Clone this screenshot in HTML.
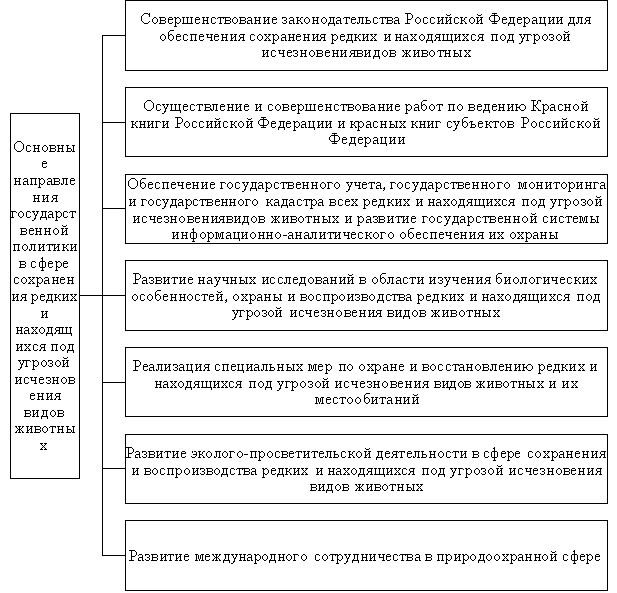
<!DOCTYPE html>
<html><head><meta charset="utf-8"><title>diagram</title><style>
html,body{margin:0;padding:0;background:#fff;overflow:hidden;width:617px;height:593px;}
svg{display:block;}
</style></head><body>
<svg width="617" height="593" viewBox="0 0 617 593" shape-rendering="crispEdges">
<defs>
<path id="g0" d="M1 -2h1v1h-1zM0 -1h2v1h-2zM1 0h1v1h-1zM0 1h1v1h-1z"/>
<path id="g1" d="M0 -4h4v1h-4z"/>
<path id="g2" d="M0 -11h5v1h-5zM7 -11h3v1h-3zM2 -10h1v1h-1zM6 -10h1v1h-1zM9 -10h1v1h-1zM2 -9h1v1h-1zM6 -9h1v1h-1zM2 -8h1v1h-1zM6 -8h1v1h-1zM2 -7h1v1h-1zM5 -7h1v1h-1zM2 -6h3v1h-3zM2 -5h1v1h-1zM4 -5h1v1h-1zM2 -4h1v1h-1zM5 -4h1v1h-1zM2 -3h1v1h-1zM6 -3h1v1h-1zM2 -2h1v1h-1zM7 -2h1v1h-1zM0 -1h5v1h-5zM7 -1h3v1h-3z"/>
<path id="g3" d="M3 -11h4v1h-4zM2 -10h1v1h-1zM7 -10h1v1h-1zM1 -9h1v1h-1zM8 -9h1v1h-1zM0 -8h1v1h-1zM9 -8h1v1h-1zM0 -7h1v1h-1zM9 -7h1v1h-1zM0 -6h1v1h-1zM9 -6h1v1h-1zM0 -5h1v1h-1zM9 -5h1v1h-1zM0 -4h1v1h-1zM9 -4h1v1h-1zM1 -3h1v1h-1zM8 -3h1v1h-1zM2 -2h1v1h-1zM7 -2h1v1h-1zM3 -1h4v1h-4z"/>
<path id="g4" d="M0 -11h6v1h-6zM2 -10h1v1h-1zM6 -10h1v1h-1zM2 -9h1v1h-1zM7 -9h1v1h-1zM2 -8h1v1h-1zM7 -8h1v1h-1zM2 -7h1v1h-1zM7 -7h1v1h-1zM2 -6h1v1h-1zM6 -6h1v1h-1zM2 -5h4v1h-4zM2 -4h1v1h-1zM2 -3h1v1h-1zM2 -2h1v1h-1zM0 -1h5v1h-5z"/>
<path id="g5" d="M3 -11h4v1h-4zM8 -11h1v1h-1zM2 -10h1v1h-1zM7 -10h2v1h-2zM1 -9h1v1h-1zM8 -9h1v1h-1zM0 -8h1v1h-1zM8 -8h1v1h-1zM0 -7h1v1h-1zM0 -6h1v1h-1zM0 -5h1v1h-1zM0 -4h1v1h-1zM1 -3h1v1h-1zM8 -3h1v1h-1zM2 -2h1v1h-1zM7 -2h1v1h-1zM3 -1h4v1h-4z"/>
<path id="g6" d="M3 -11h5v1h-5zM5 -10h1v1h-1zM2 -9h7v1h-7zM1 -8h1v1h-1zM5 -8h1v1h-1zM9 -8h1v1h-1zM0 -7h1v1h-1zM5 -7h1v1h-1zM10 -7h1v1h-1zM0 -6h1v1h-1zM5 -6h1v1h-1zM10 -6h1v1h-1zM0 -5h1v1h-1zM5 -5h1v1h-1zM10 -5h1v1h-1zM1 -4h1v1h-1zM5 -4h1v1h-1zM9 -4h1v1h-1zM2 -3h7v1h-7zM5 -2h1v1h-1zM3 -1h5v1h-5z"/>
<path id="g7" d="M1 -7h3v1h-3zM0 -6h1v1h-1zM4 -6h1v1h-1zM4 -5h1v1h-1zM1 -4h4v1h-4zM0 -3h1v1h-1zM4 -3h1v1h-1zM0 -2h1v1h-1zM4 -2h1v1h-1zM0 -1h3v1h-3zM4 -1h2v1h-2z"/>
<path id="g8" d="M2 -11h4v1h-4zM1 -10h1v1h-1zM0 -9h1v1h-1zM0 -8h1v1h-1zM0 -7h1v1h-1zM2 -7h2v1h-2zM0 -6h2v1h-2zM4 -6h1v1h-1zM0 -5h1v1h-1zM5 -5h1v1h-1zM0 -4h1v1h-1zM5 -4h1v1h-1zM0 -3h1v1h-1zM5 -3h1v1h-1zM1 -2h1v1h-1zM4 -2h1v1h-1zM2 -1h2v1h-2z"/>
<path id="g9" d="M0 -7h6v1h-6zM1 -6h1v1h-1zM6 -6h1v1h-1zM1 -5h1v1h-1zM6 -5h1v1h-1zM1 -4h5v1h-5zM1 -3h1v1h-1zM6 -3h1v1h-1zM1 -2h1v1h-1zM6 -2h1v1h-1zM0 -1h6v1h-6z"/>
<path id="g10" d="M0 -7h5v1h-5zM1 -6h1v1h-1zM5 -6h1v1h-1zM1 -5h1v1h-1zM1 -4h1v1h-1zM1 -3h1v1h-1zM1 -2h1v1h-1zM0 -1h3v1h-3z"/>
<path id="g11" d="M1 -7h6v1h-6zM2 -6h1v1h-1zM5 -6h1v1h-1zM2 -5h1v1h-1zM5 -5h1v1h-1zM2 -4h1v1h-1zM5 -4h1v1h-1zM2 -3h1v1h-1zM5 -3h1v1h-1zM1 -2h1v1h-1zM5 -2h1v1h-1zM0 -1h7v1h-7zM0 0h1v1h-1zM6 0h1v1h-1zM0 1h1v1h-1zM6 1h1v1h-1z"/>
<path id="g12" d="M1 -7h3v1h-3zM0 -6h1v1h-1zM4 -6h1v1h-1zM0 -5h5v1h-5zM0 -4h1v1h-1zM0 -3h1v1h-1zM0 -2h1v1h-1zM4 -2h1v1h-1zM1 -1h3v1h-3z"/>
<path id="g13" d="M0 -7h2v1h-2zM3 -7h3v1h-3zM7 -7h2v1h-2zM1 -6h1v1h-1zM4 -6h1v1h-1zM7 -6h1v1h-1zM2 -5h1v1h-1zM4 -5h1v1h-1zM6 -5h1v1h-1zM3 -4h3v1h-3zM2 -3h1v1h-1zM4 -3h1v1h-1zM6 -3h1v1h-1zM1 -2h1v1h-1zM4 -2h1v1h-1zM7 -2h1v1h-1zM0 -1h2v1h-2zM3 -1h3v1h-3zM7 -1h2v1h-2z"/>
<path id="g14" d="M0 -7h4v1h-4zM0 -6h1v1h-1zM4 -6h1v1h-1zM4 -5h1v1h-1zM2 -4h2v1h-2zM4 -3h1v1h-1zM0 -2h1v1h-1zM4 -2h1v1h-1zM1 -1h3v1h-3z"/>
<path id="g15" d="M0 -7h3v1h-3zM4 -7h3v1h-3zM1 -6h1v1h-1zM5 -6h1v1h-1zM1 -5h1v1h-1zM4 -5h2v1h-2zM1 -4h1v1h-1zM3 -4h1v1h-1zM5 -4h1v1h-1zM1 -3h2v1h-2zM5 -3h1v1h-1zM1 -2h1v1h-1zM5 -2h1v1h-1zM0 -1h3v1h-3zM4 -1h3v1h-3z"/>
<path id="g16" d="M1 -10h1v1h-1zM5 -10h1v1h-1zM2 -9h3v1h-3zM0 -7h3v1h-3zM4 -7h3v1h-3zM1 -6h1v1h-1zM5 -6h1v1h-1zM1 -5h1v1h-1zM4 -5h2v1h-2zM1 -4h1v1h-1zM3 -4h1v1h-1zM5 -4h1v1h-1zM1 -3h2v1h-2zM5 -3h1v1h-1zM1 -2h1v1h-1zM5 -2h1v1h-1zM0 -1h3v1h-3zM4 -1h3v1h-3z"/>
<path id="g17" d="M0 -7h3v1h-3zM5 -7h2v1h-2zM1 -6h1v1h-1zM4 -6h1v1h-1zM1 -5h1v1h-1zM4 -5h1v1h-1zM1 -4h3v1h-3zM1 -3h1v1h-1zM4 -3h1v1h-1zM1 -2h1v1h-1zM5 -2h1v1h-1zM0 -1h3v1h-3zM5 -1h2v1h-2z"/>
<path id="g18" d="M1 -7h6v1h-6zM2 -6h1v1h-1zM5 -6h1v1h-1zM2 -5h1v1h-1zM5 -5h1v1h-1zM2 -4h1v1h-1zM5 -4h1v1h-1zM2 -3h1v1h-1zM5 -3h1v1h-1zM0 -2h1v1h-1zM2 -2h1v1h-1zM5 -2h1v1h-1zM0 -1h2v1h-2zM4 -1h3v1h-3z"/>
<path id="g19" d="M0 -7h3v1h-3zM6 -7h3v1h-3zM1 -6h1v1h-1zM3 -6h1v1h-1zM5 -6h1v1h-1zM7 -6h1v1h-1zM1 -5h1v1h-1zM3 -5h1v1h-1zM5 -5h1v1h-1zM7 -5h1v1h-1zM1 -4h1v1h-1zM3 -4h1v1h-1zM5 -4h1v1h-1zM7 -4h1v1h-1zM1 -3h1v1h-1zM3 -3h1v1h-1zM5 -3h1v1h-1zM7 -3h1v1h-1zM1 -2h1v1h-1zM4 -2h1v1h-1zM7 -2h1v1h-1zM0 -1h3v1h-3zM4 -1h1v1h-1zM6 -1h3v1h-3z"/>
<path id="g20" d="M0 -7h3v1h-3zM4 -7h3v1h-3zM1 -6h1v1h-1zM5 -6h1v1h-1zM1 -5h1v1h-1zM5 -5h1v1h-1zM1 -4h5v1h-5zM1 -3h1v1h-1zM5 -3h1v1h-1zM1 -2h1v1h-1zM5 -2h1v1h-1zM0 -1h3v1h-3zM4 -1h3v1h-3z"/>
<path id="g21" d="M2 -7h2v1h-2zM1 -6h1v1h-1zM4 -6h1v1h-1zM0 -5h1v1h-1zM5 -5h1v1h-1zM0 -4h1v1h-1zM5 -4h1v1h-1zM0 -3h1v1h-1zM5 -3h1v1h-1zM1 -2h1v1h-1zM4 -2h1v1h-1zM2 -1h2v1h-2z"/>
<path id="g22" d="M0 -7h7v1h-7zM1 -6h1v1h-1zM5 -6h1v1h-1zM1 -5h1v1h-1zM5 -5h1v1h-1zM1 -4h1v1h-1zM5 -4h1v1h-1zM1 -3h1v1h-1zM5 -3h1v1h-1zM1 -2h1v1h-1zM5 -2h1v1h-1zM0 -1h3v1h-3zM4 -1h3v1h-3z"/>
<path id="g23" d="M0 -7h2v1h-2zM3 -7h2v1h-2zM1 -6h2v1h-2zM5 -6h1v1h-1zM1 -5h1v1h-1zM6 -5h1v1h-1zM1 -4h1v1h-1zM6 -4h1v1h-1zM1 -3h1v1h-1zM6 -3h1v1h-1zM1 -2h2v1h-2zM5 -2h1v1h-1zM1 -1h1v1h-1zM3 -1h2v1h-2zM1 0h1v1h-1zM1 1h1v1h-1zM0 2h3v1h-3z"/>
<path id="g24" d="M1 -7h3v1h-3zM0 -6h1v1h-1zM4 -6h1v1h-1zM0 -5h1v1h-1zM0 -4h1v1h-1zM0 -3h1v1h-1zM0 -2h1v1h-1zM4 -2h1v1h-1zM1 -1h3v1h-3z"/>
<path id="g25" d="M1 -7h6v1h-6zM0 -6h1v1h-1zM3 -6h1v1h-1zM6 -6h1v1h-1zM3 -5h1v1h-1zM3 -4h1v1h-1zM3 -3h1v1h-1zM3 -2h1v1h-1zM2 -1h3v1h-3z"/>
<path id="g26" d="M0 -7h3v1h-3zM4 -7h3v1h-3zM1 -6h1v1h-1zM5 -6h1v1h-1zM2 -5h1v1h-1zM5 -5h1v1h-1zM2 -4h1v1h-1zM4 -4h1v1h-1zM3 -3h2v1h-2zM3 -2h1v1h-1zM3 -1h1v1h-1zM2 0h2v1h-2zM2 1h1v1h-1zM0 2h2v1h-2z"/>
<path id="g27" d="M3 -11h1v1h-1zM2 -10h2v1h-2zM3 -9h1v1h-1zM3 -8h1v1h-1zM1 -7h5v1h-5zM0 -6h1v1h-1zM3 -6h1v1h-1zM6 -6h1v1h-1zM0 -5h1v1h-1zM3 -5h1v1h-1zM6 -5h1v1h-1zM0 -4h1v1h-1zM3 -4h1v1h-1zM6 -4h1v1h-1zM0 -3h1v1h-1zM3 -3h1v1h-1zM6 -3h1v1h-1zM0 -2h1v1h-1zM3 -2h1v1h-1zM6 -2h1v1h-1zM1 -1h5v1h-5zM3 0h1v1h-1zM3 1h1v1h-1zM2 2h3v1h-3z"/>
<path id="g28" d="M0 -7h3v1h-3zM4 -7h3v1h-3zM1 -6h1v1h-1zM5 -6h1v1h-1zM2 -5h1v1h-1zM4 -5h1v1h-1zM3 -4h1v1h-1zM2 -3h1v1h-1zM4 -3h1v1h-1zM1 -2h1v1h-1zM5 -2h1v1h-1zM0 -1h3v1h-3zM4 -1h3v1h-3z"/>
<path id="g29" d="M0 -7h3v1h-3zM4 -7h3v1h-3zM1 -6h1v1h-1zM5 -6h1v1h-1zM1 -5h1v1h-1zM5 -5h1v1h-1zM1 -4h1v1h-1zM5 -4h1v1h-1zM1 -3h1v1h-1zM5 -3h1v1h-1zM1 -2h1v1h-1zM5 -2h1v1h-1zM0 -1h7v1h-7zM6 0h1v1h-1zM6 1h1v1h-1z"/>
<path id="g30" d="M0 -7h3v1h-3zM4 -7h3v1h-3zM1 -6h1v1h-1zM5 -6h1v1h-1zM1 -5h1v1h-1zM5 -5h1v1h-1zM1 -4h5v1h-5zM5 -3h1v1h-1zM5 -2h1v1h-1zM4 -1h3v1h-3z"/>
<path id="g31" d="M0 -7h3v1h-3zM4 -7h3v1h-3zM8 -7h3v1h-3zM1 -6h1v1h-1zM5 -6h1v1h-1zM9 -6h1v1h-1zM1 -5h1v1h-1zM5 -5h1v1h-1zM9 -5h1v1h-1zM1 -4h1v1h-1zM5 -4h1v1h-1zM9 -4h1v1h-1zM1 -3h1v1h-1zM5 -3h1v1h-1zM9 -3h1v1h-1zM1 -2h1v1h-1zM5 -2h1v1h-1zM9 -2h1v1h-1zM0 -1h11v1h-11z"/>
<path id="g32" d="M0 -7h3v1h-3zM4 -7h3v1h-3zM8 -7h3v1h-3zM1 -6h1v1h-1zM5 -6h1v1h-1zM9 -6h1v1h-1zM1 -5h1v1h-1zM5 -5h1v1h-1zM9 -5h1v1h-1zM1 -4h1v1h-1zM5 -4h1v1h-1zM9 -4h1v1h-1zM1 -3h1v1h-1zM5 -3h1v1h-1zM9 -3h1v1h-1zM1 -2h1v1h-1zM5 -2h1v1h-1zM9 -2h1v1h-1zM0 -1h11v1h-11zM10 0h1v1h-1zM10 1h1v1h-1z"/>
<path id="g33" d="M1 -7h3v1h-3zM0 -6h1v1h-1zM2 -6h1v1h-1zM2 -5h1v1h-1zM2 -4h4v1h-4zM2 -3h1v1h-1zM6 -3h1v1h-1zM2 -2h1v1h-1zM6 -2h1v1h-1zM1 -1h5v1h-5z"/>
<path id="g34" d="M0 -7h3v1h-3zM6 -7h3v1h-3zM1 -6h1v1h-1zM7 -6h1v1h-1zM1 -5h1v1h-1zM7 -5h1v1h-1zM1 -4h4v1h-4zM7 -4h1v1h-1zM1 -3h1v1h-1zM5 -3h1v1h-1zM7 -3h1v1h-1zM1 -2h1v1h-1zM5 -2h1v1h-1zM7 -2h1v1h-1zM0 -1h5v1h-5zM6 -1h3v1h-3z"/>
<path id="g35" d="M0 -7h3v1h-3zM1 -6h1v1h-1zM1 -5h1v1h-1zM1 -4h4v1h-4zM1 -3h1v1h-1zM5 -3h1v1h-1zM1 -2h1v1h-1zM5 -2h1v1h-1zM0 -1h5v1h-5z"/>
<path id="g36" d="M1 -7h1v1h-1zM3 -7h2v1h-2zM1 -6h1v1h-1zM5 -6h1v1h-1zM5 -5h1v1h-1zM2 -4h4v1h-4zM5 -3h1v1h-1zM0 -2h1v1h-1zM4 -2h1v1h-1zM1 -1h3v1h-3z"/>
<path id="g37" d="M0 -7h3v1h-3zM6 -7h3v1h-3zM1 -6h1v1h-1zM5 -6h1v1h-1zM9 -6h1v1h-1zM1 -5h1v1h-1zM4 -5h1v1h-1zM10 -5h1v1h-1zM1 -4h4v1h-4zM10 -4h1v1h-1zM1 -3h1v1h-1zM4 -3h1v1h-1zM10 -3h1v1h-1zM1 -2h1v1h-1zM5 -2h1v1h-1zM9 -2h1v1h-1zM0 -1h3v1h-3zM6 -1h3v1h-3z"/>
<path id="g38" d="M2 -7h5v1h-5zM1 -6h1v1h-1zM5 -6h1v1h-1zM1 -5h1v1h-1zM5 -5h1v1h-1zM2 -4h4v1h-4zM2 -3h1v1h-1zM5 -3h1v1h-1zM1 -2h1v1h-1zM5 -2h1v1h-1zM0 -1h2v1h-2zM4 -1h3v1h-3z"/>
</defs>
<rect width="617" height="593" fill="#fff"/>
<path fill="#000" d="M125 0h483v1h-483zM125 70h483v1h-483zM125 1h1v69h-1zM607 1h1v69h-1zM103 35h22v1h-22zM125 87h483v1h-483zM125 156h483v1h-483zM125 88h1v68h-1zM607 88h1v68h-1zM103 122h22v1h-22zM125 174h483v1h-483zM125 243h483v1h-483zM125 175h1v68h-1zM607 175h1v68h-1zM103 208h22v1h-22zM125 260h483v1h-483zM125 330h483v1h-483zM125 261h1v69h-1zM607 261h1v69h-1zM103 295h22v1h-22zM125 347h483v1h-483zM125 416h483v1h-483zM125 348h1v68h-1zM607 348h1v68h-1zM103 382h22v1h-22zM125 434h483v1h-483zM125 503h483v1h-483zM125 435h1v68h-1zM607 435h1v68h-1zM103 468h22v1h-22zM125 520h483v1h-483zM125 590h483v1h-483zM125 521h1v69h-1zM607 521h1v69h-1zM103 555h22v1h-22zM102 35h1v521h-1zM10 113h70v1h-70zM10 478h70v1h-70zM10 114h1v364h-1zM79 114h1v364h-1zM80 295h22v1h-22z"/>
<g fill="#000">
<use href="#g5" x="141" y="24"/>
<use href="#g21" x="152" y="24"/>
<use href="#g9" x="159" y="24"/>
<use href="#g12" x="168" y="24"/>
<use href="#g23" x="174" y="24"/>
<use href="#g31" x="182" y="24"/>
<use href="#g12" x="195" y="24"/>
<use href="#g20" x="202" y="24"/>
<use href="#g24" x="211" y="24"/>
<use href="#g25" x="217" y="24"/>
<use href="#g9" x="224" y="24"/>
<use href="#g21" x="232" y="24"/>
<use href="#g9" x="239" y="24"/>
<use href="#g7" x="247" y="24"/>
<use href="#g20" x="254" y="24"/>
<use href="#g15" x="263" y="24"/>
<use href="#g12" x="272" y="24"/>
<use href="#g14" x="282" y="24"/>
<use href="#g7" x="289" y="24"/>
<use href="#g17" x="296" y="24"/>
<use href="#g21" x="304" y="24"/>
<use href="#g20" x="312" y="24"/>
<use href="#g21" x="321" y="24"/>
<use href="#g11" x="328" y="24"/>
<use href="#g7" x="336" y="24"/>
<use href="#g25" x="343" y="24"/>
<use href="#g12" x="351" y="24"/>
<use href="#g18" x="357" y="24"/>
<use href="#g35" x="365" y="24"/>
<use href="#g24" x="373" y="24"/>
<use href="#g25" x="379" y="24"/>
<use href="#g9" x="386" y="24"/>
<use href="#g7" x="394" y="24"/>
<use href="#g4" x="405" y="24"/>
<use href="#g21" x="415" y="24"/>
<use href="#g24" x="423" y="24"/>
<use href="#g24" x="430" y="24"/>
<use href="#g15" x="437" y="24"/>
<use href="#g16" x="445" y="24"/>
<use href="#g24" x="454" y="24"/>
<use href="#g17" x="460" y="24"/>
<use href="#g21" x="469" y="24"/>
<use href="#g16" x="476" y="24"/>
<use href="#g6" x="489" y="24"/>
<use href="#g12" x="502" y="24"/>
<use href="#g11" x="508" y="24"/>
<use href="#g12" x="517" y="24"/>
<use href="#g23" x="523" y="24"/>
<use href="#g7" x="532" y="24"/>
<use href="#g29" x="539" y="24"/>
<use href="#g15" x="548" y="24"/>
<use href="#g15" x="556" y="24"/>
<use href="#g11" x="568" y="24"/>
<use href="#g18" x="576" y="24"/>
<use href="#g38" x="584" y="24"/>
<use href="#g21" x="160" y="41"/>
<use href="#g8" x="168" y="41"/>
<use href="#g12" x="176" y="41"/>
<use href="#g24" x="183" y="41"/>
<use href="#g22" x="190" y="41"/>
<use href="#g12" x="199" y="41"/>
<use href="#g30" x="206" y="41"/>
<use href="#g12" x="214" y="41"/>
<use href="#g20" x="221" y="41"/>
<use href="#g15" x="230" y="41"/>
<use href="#g38" x="238" y="41"/>
<use href="#g24" x="250" y="41"/>
<use href="#g21" x="257" y="41"/>
<use href="#g28" x="264" y="41"/>
<use href="#g23" x="272" y="41"/>
<use href="#g7" x="281" y="41"/>
<use href="#g20" x="288" y="41"/>
<use href="#g12" x="296" y="41"/>
<use href="#g20" x="303" y="41"/>
<use href="#g15" x="312" y="41"/>
<use href="#g38" x="319" y="41"/>
<use href="#g23" x="331" y="41"/>
<use href="#g12" x="340" y="41"/>
<use href="#g11" x="346" y="41"/>
<use href="#g17" x="354" y="41"/>
<use href="#g15" x="362" y="41"/>
<use href="#g28" x="370" y="41"/>
<use href="#g15" x="384" y="41"/>
<use href="#g20" x="395" y="41"/>
<use href="#g7" x="403" y="41"/>
<use href="#g28" x="410" y="41"/>
<use href="#g21" x="419" y="41"/>
<use href="#g11" x="426" y="41"/>
<use href="#g38" x="434" y="41"/>
<use href="#g32" x="442" y="41"/>
<use href="#g15" x="454" y="41"/>
<use href="#g28" x="462" y="41"/>
<use href="#g24" x="471" y="41"/>
<use href="#g38" x="477" y="41"/>
<use href="#g22" x="491" y="41"/>
<use href="#g21" x="500" y="41"/>
<use href="#g11" x="507" y="41"/>
<use href="#g26" x="519" y="41"/>
<use href="#g10" x="526" y="41"/>
<use href="#g23" x="533" y="41"/>
<use href="#g21" x="542" y="41"/>
<use href="#g14" x="549" y="41"/>
<use href="#g21" x="556" y="41"/>
<use href="#g16" x="563" y="41"/>
<use href="#g15" x="262" y="57"/>
<use href="#g24" x="271" y="57"/>
<use href="#g30" x="278" y="57"/>
<use href="#g12" x="287" y="57"/>
<use href="#g14" x="293" y="57"/>
<use href="#g20" x="300" y="57"/>
<use href="#g21" x="309" y="57"/>
<use href="#g9" x="316" y="57"/>
<use href="#g12" x="325" y="57"/>
<use href="#g20" x="332" y="57"/>
<use href="#g15" x="340" y="57"/>
<use href="#g38" x="349" y="57"/>
<use href="#g9" x="356" y="57"/>
<use href="#g15" x="364" y="57"/>
<use href="#g11" x="373" y="57"/>
<use href="#g21" x="382" y="57"/>
<use href="#g9" x="389" y="57"/>
<use href="#g13" x="402" y="57"/>
<use href="#g15" x="413" y="57"/>
<use href="#g9" x="421" y="57"/>
<use href="#g21" x="429" y="57"/>
<use href="#g25" x="437" y="57"/>
<use href="#g20" x="444" y="57"/>
<use href="#g34" x="453" y="57"/>
<use href="#g28" x="464" y="57"/>
<use href="#g3" x="144" y="111"/>
<use href="#g24" x="156" y="111"/>
<use href="#g26" x="162" y="111"/>
<use href="#g32" x="170" y="111"/>
<use href="#g12" x="183" y="111"/>
<use href="#g24" x="190" y="111"/>
<use href="#g25" x="196" y="111"/>
<use href="#g9" x="204" y="111"/>
<use href="#g18" x="211" y="111"/>
<use href="#g12" x="220" y="111"/>
<use href="#g20" x="227" y="111"/>
<use href="#g15" x="235" y="111"/>
<use href="#g12" x="244" y="111"/>
<use href="#g15" x="255" y="111"/>
<use href="#g24" x="268" y="111"/>
<use href="#g21" x="275" y="111"/>
<use href="#g9" x="282" y="111"/>
<use href="#g12" x="291" y="111"/>
<use href="#g23" x="297" y="111"/>
<use href="#g31" x="305" y="111"/>
<use href="#g12" x="318" y="111"/>
<use href="#g20" x="325" y="111"/>
<use href="#g24" x="334" y="111"/>
<use href="#g25" x="340" y="111"/>
<use href="#g9" x="347" y="111"/>
<use href="#g21" x="355" y="111"/>
<use href="#g9" x="362" y="111"/>
<use href="#g7" x="370" y="111"/>
<use href="#g20" x="378" y="111"/>
<use href="#g15" x="386" y="111"/>
<use href="#g12" x="395" y="111"/>
<use href="#g23" x="405" y="111"/>
<use href="#g7" x="414" y="111"/>
<use href="#g8" x="421" y="111"/>
<use href="#g21" x="429" y="111"/>
<use href="#g25" x="436" y="111"/>
<use href="#g22" x="448" y="111"/>
<use href="#g21" x="457" y="111"/>
<use href="#g9" x="468" y="111"/>
<use href="#g12" x="477" y="111"/>
<use href="#g11" x="483" y="111"/>
<use href="#g12" x="492" y="111"/>
<use href="#g20" x="498" y="111"/>
<use href="#g15" x="507" y="111"/>
<use href="#g37" x="515" y="111"/>
<use href="#g2" x="531" y="111"/>
<use href="#g23" x="542" y="111"/>
<use href="#g7" x="550" y="111"/>
<use href="#g24" x="558" y="111"/>
<use href="#g20" x="564" y="111"/>
<use href="#g21" x="573" y="111"/>
<use href="#g16" x="581" y="111"/>
<use href="#g17" x="131" y="128"/>
<use href="#g20" x="139" y="128"/>
<use href="#g15" x="147" y="128"/>
<use href="#g10" x="155" y="128"/>
<use href="#g15" x="162" y="128"/>
<use href="#g4" x="175" y="128"/>
<use href="#g21" x="184" y="128"/>
<use href="#g24" x="192" y="128"/>
<use href="#g24" x="199" y="128"/>
<use href="#g15" x="206" y="128"/>
<use href="#g16" x="214" y="128"/>
<use href="#g24" x="223" y="128"/>
<use href="#g17" x="230" y="128"/>
<use href="#g21" x="238" y="128"/>
<use href="#g16" x="246" y="128"/>
<use href="#g6" x="258" y="128"/>
<use href="#g12" x="271" y="128"/>
<use href="#g11" x="278" y="128"/>
<use href="#g12" x="286" y="128"/>
<use href="#g23" x="293" y="128"/>
<use href="#g7" x="301" y="128"/>
<use href="#g29" x="308" y="128"/>
<use href="#g15" x="317" y="128"/>
<use href="#g15" x="325" y="128"/>
<use href="#g15" x="338" y="128"/>
<use href="#g17" x="350" y="128"/>
<use href="#g23" x="357" y="128"/>
<use href="#g7" x="366" y="128"/>
<use href="#g24" x="373" y="128"/>
<use href="#g20" x="380" y="128"/>
<use href="#g34" x="389" y="128"/>
<use href="#g28" x="399" y="128"/>
<use href="#g17" x="411" y="128"/>
<use href="#g20" x="419" y="128"/>
<use href="#g15" x="427" y="128"/>
<use href="#g10" x="435" y="128"/>
<use href="#g24" x="447" y="128"/>
<use href="#g26" x="453" y="128"/>
<use href="#g8" x="462" y="128"/>
<use href="#g33" x="469" y="128"/>
<use href="#g12" x="478" y="128"/>
<use href="#g17" x="485" y="128"/>
<use href="#g25" x="492" y="128"/>
<use href="#g21" x="500" y="128"/>
<use href="#g9" x="507" y="128"/>
<use href="#g4" x="521" y="128"/>
<use href="#g21" x="531" y="128"/>
<use href="#g24" x="539" y="128"/>
<use href="#g24" x="546" y="128"/>
<use href="#g15" x="553" y="128"/>
<use href="#g16" x="561" y="128"/>
<use href="#g24" x="570" y="128"/>
<use href="#g17" x="577" y="128"/>
<use href="#g21" x="585" y="128"/>
<use href="#g16" x="593" y="128"/>
<use href="#g6" x="329" y="144"/>
<use href="#g12" x="342" y="144"/>
<use href="#g11" x="349" y="144"/>
<use href="#g12" x="358" y="144"/>
<use href="#g23" x="364" y="144"/>
<use href="#g7" x="373" y="144"/>
<use href="#g29" x="380" y="144"/>
<use href="#g15" x="389" y="144"/>
<use href="#g15" x="398" y="144"/>
<use href="#g3" x="128" y="189"/>
<use href="#g8" x="140" y="189"/>
<use href="#g12" x="148" y="189"/>
<use href="#g24" x="155" y="189"/>
<use href="#g22" x="162" y="189"/>
<use href="#g12" x="171" y="189"/>
<use href="#g30" x="177" y="189"/>
<use href="#g12" x="186" y="189"/>
<use href="#g20" x="192" y="189"/>
<use href="#g15" x="201" y="189"/>
<use href="#g12" x="210" y="189"/>
<use href="#g10" x="220" y="189"/>
<use href="#g21" x="227" y="189"/>
<use href="#g24" x="235" y="189"/>
<use href="#g26" x="242" y="189"/>
<use href="#g11" x="250" y="189"/>
<use href="#g7" x="258" y="189"/>
<use href="#g23" x="265" y="189"/>
<use href="#g24" x="274" y="189"/>
<use href="#g25" x="280" y="189"/>
<use href="#g9" x="287" y="189"/>
<use href="#g12" x="296" y="189"/>
<use href="#g20" x="302" y="189"/>
<use href="#g20" x="311" y="189"/>
<use href="#g21" x="320" y="189"/>
<use href="#g10" x="327" y="189"/>
<use href="#g21" x="334" y="189"/>
<use href="#g26" x="346" y="189"/>
<use href="#g30" x="354" y="189"/>
<use href="#g12" x="362" y="189"/>
<use href="#g25" x="368" y="189"/>
<use href="#g7" x="376" y="189"/>
<use href="#g0" x="383" y="189"/>
<use href="#g10" x="390" y="189"/>
<use href="#g21" x="397" y="189"/>
<use href="#g24" x="405" y="189"/>
<use href="#g26" x="412" y="189"/>
<use href="#g11" x="420" y="189"/>
<use href="#g7" x="428" y="189"/>
<use href="#g23" x="435" y="189"/>
<use href="#g24" x="444" y="189"/>
<use href="#g25" x="450" y="189"/>
<use href="#g9" x="457" y="189"/>
<use href="#g12" x="465" y="189"/>
<use href="#g20" x="472" y="189"/>
<use href="#g20" x="481" y="189"/>
<use href="#g21" x="489" y="189"/>
<use href="#g10" x="497" y="189"/>
<use href="#g21" x="504" y="189"/>
<use href="#g19" x="518" y="189"/>
<use href="#g21" x="529" y="189"/>
<use href="#g20" x="536" y="189"/>
<use href="#g15" x="545" y="189"/>
<use href="#g25" x="553" y="189"/>
<use href="#g21" x="561" y="189"/>
<use href="#g23" x="568" y="189"/>
<use href="#g15" x="576" y="189"/>
<use href="#g20" x="585" y="189"/>
<use href="#g10" x="593" y="189"/>
<use href="#g7" x="600" y="189"/>
<use href="#g15" x="129" y="206"/>
<use href="#g10" x="141" y="206"/>
<use href="#g21" x="148" y="206"/>
<use href="#g24" x="156" y="206"/>
<use href="#g26" x="162" y="206"/>
<use href="#g11" x="170" y="206"/>
<use href="#g7" x="178" y="206"/>
<use href="#g23" x="185" y="206"/>
<use href="#g24" x="193" y="206"/>
<use href="#g25" x="199" y="206"/>
<use href="#g9" x="206" y="206"/>
<use href="#g12" x="215" y="206"/>
<use href="#g20" x="221" y="206"/>
<use href="#g20" x="229" y="206"/>
<use href="#g21" x="238" y="206"/>
<use href="#g10" x="245" y="206"/>
<use href="#g21" x="252" y="206"/>
<use href="#g17" x="266" y="206"/>
<use href="#g7" x="274" y="206"/>
<use href="#g11" x="281" y="206"/>
<use href="#g7" x="289" y="206"/>
<use href="#g24" x="297" y="206"/>
<use href="#g25" x="303" y="206"/>
<use href="#g23" x="310" y="206"/>
<use href="#g7" x="318" y="206"/>
<use href="#g9" x="329" y="206"/>
<use href="#g24" x="338" y="206"/>
<use href="#g12" x="345" y="206"/>
<use href="#g28" x="351" y="206"/>
<use href="#g23" x="363" y="206"/>
<use href="#g12" x="372" y="206"/>
<use href="#g11" x="378" y="206"/>
<use href="#g17" x="387" y="206"/>
<use href="#g15" x="395" y="206"/>
<use href="#g28" x="403" y="206"/>
<use href="#g15" x="416" y="206"/>
<use href="#g20" x="428" y="206"/>
<use href="#g7" x="436" y="206"/>
<use href="#g28" x="443" y="206"/>
<use href="#g21" x="451" y="206"/>
<use href="#g11" x="458" y="206"/>
<use href="#g38" x="466" y="206"/>
<use href="#g32" x="474" y="206"/>
<use href="#g15" x="486" y="206"/>
<use href="#g28" x="494" y="206"/>
<use href="#g24" x="502" y="206"/>
<use href="#g38" x="508" y="206"/>
<use href="#g22" x="522" y="206"/>
<use href="#g21" x="531" y="206"/>
<use href="#g11" x="538" y="206"/>
<use href="#g26" x="550" y="206"/>
<use href="#g10" x="558" y="206"/>
<use href="#g23" x="564" y="206"/>
<use href="#g21" x="573" y="206"/>
<use href="#g14" x="581" y="206"/>
<use href="#g21" x="587" y="206"/>
<use href="#g16" x="595" y="206"/>
<use href="#g15" x="133" y="223"/>
<use href="#g24" x="142" y="223"/>
<use href="#g30" x="149" y="223"/>
<use href="#g12" x="157" y="223"/>
<use href="#g14" x="164" y="223"/>
<use href="#g20" x="170" y="223"/>
<use href="#g21" x="179" y="223"/>
<use href="#g9" x="187" y="223"/>
<use href="#g12" x="195" y="223"/>
<use href="#g20" x="202" y="223"/>
<use href="#g15" x="211" y="223"/>
<use href="#g38" x="218" y="223"/>
<use href="#g9" x="226" y="223"/>
<use href="#g15" x="234" y="223"/>
<use href="#g11" x="242" y="223"/>
<use href="#g21" x="251" y="223"/>
<use href="#g9" x="258" y="223"/>
<use href="#g13" x="271" y="223"/>
<use href="#g15" x="282" y="223"/>
<use href="#g9" x="290" y="223"/>
<use href="#g21" x="298" y="223"/>
<use href="#g25" x="305" y="223"/>
<use href="#g20" x="313" y="223"/>
<use href="#g34" x="322" y="223"/>
<use href="#g28" x="332" y="223"/>
<use href="#g15" x="345" y="223"/>
<use href="#g23" x="357" y="223"/>
<use href="#g7" x="366" y="223"/>
<use href="#g14" x="373" y="223"/>
<use href="#g9" x="378" y="223"/>
<use href="#g15" x="387" y="223"/>
<use href="#g25" x="395" y="223"/>
<use href="#g15" x="402" y="223"/>
<use href="#g12" x="411" y="223"/>
<use href="#g10" x="422" y="223"/>
<use href="#g21" x="429" y="223"/>
<use href="#g24" x="437" y="223"/>
<use href="#g26" x="444" y="223"/>
<use href="#g11" x="452" y="223"/>
<use href="#g7" x="460" y="223"/>
<use href="#g23" x="467" y="223"/>
<use href="#g24" x="476" y="223"/>
<use href="#g25" x="482" y="223"/>
<use href="#g9" x="489" y="223"/>
<use href="#g12" x="498" y="223"/>
<use href="#g20" x="504" y="223"/>
<use href="#g20" x="513" y="223"/>
<use href="#g21" x="522" y="223"/>
<use href="#g16" x="530" y="223"/>
<use href="#g24" x="543" y="223"/>
<use href="#g15" x="550" y="223"/>
<use href="#g24" x="559" y="223"/>
<use href="#g25" x="565" y="223"/>
<use href="#g12" x="573" y="223"/>
<use href="#g19" x="579" y="223"/>
<use href="#g34" x="590" y="223"/>
<use href="#g15" x="172" y="239"/>
<use href="#g20" x="181" y="239"/>
<use href="#g27" x="190" y="239"/>
<use href="#g21" x="200" y="239"/>
<use href="#g23" x="207" y="239"/>
<use href="#g19" x="215" y="239"/>
<use href="#g7" x="226" y="239"/>
<use href="#g29" x="233" y="239"/>
<use href="#g15" x="241" y="239"/>
<use href="#g21" x="250" y="239"/>
<use href="#g20" x="258" y="239"/>
<use href="#g20" x="266" y="239"/>
<use href="#g21" x="275" y="239"/>
<use href="#g1" x="283" y="239"/>
<use href="#g7" x="288" y="239"/>
<use href="#g20" x="295" y="239"/>
<use href="#g7" x="304" y="239"/>
<use href="#g18" x="310" y="239"/>
<use href="#g15" x="319" y="239"/>
<use href="#g25" x="327" y="239"/>
<use href="#g15" x="334" y="239"/>
<use href="#g30" x="343" y="239"/>
<use href="#g12" x="351" y="239"/>
<use href="#g24" x="358" y="239"/>
<use href="#g17" x="365" y="239"/>
<use href="#g21" x="373" y="239"/>
<use href="#g10" x="380" y="239"/>
<use href="#g21" x="388" y="239"/>
<use href="#g21" x="400" y="239"/>
<use href="#g8" x="408" y="239"/>
<use href="#g12" x="416" y="239"/>
<use href="#g24" x="423" y="239"/>
<use href="#g22" x="430" y="239"/>
<use href="#g12" x="439" y="239"/>
<use href="#g30" x="445" y="239"/>
<use href="#g12" x="454" y="239"/>
<use href="#g20" x="460" y="239"/>
<use href="#g15" x="469" y="239"/>
<use href="#g38" x="477" y="239"/>
<use href="#g15" x="489" y="239"/>
<use href="#g28" x="497" y="239"/>
<use href="#g21" x="510" y="239"/>
<use href="#g28" x="517" y="239"/>
<use href="#g23" x="525" y="239"/>
<use href="#g7" x="533" y="239"/>
<use href="#g20" x="540" y="239"/>
<use href="#g34" x="549" y="239"/>
<use href="#g4" x="133" y="284"/>
<use href="#g7" x="142" y="284"/>
<use href="#g14" x="149" y="284"/>
<use href="#g9" x="155" y="284"/>
<use href="#g15" x="163" y="284"/>
<use href="#g25" x="171" y="284"/>
<use href="#g15" x="179" y="284"/>
<use href="#g12" x="188" y="284"/>
<use href="#g20" x="198" y="284"/>
<use href="#g7" x="207" y="284"/>
<use href="#g26" x="214" y="284"/>
<use href="#g30" x="222" y="284"/>
<use href="#g20" x="230" y="284"/>
<use href="#g34" x="239" y="284"/>
<use href="#g28" x="249" y="284"/>
<use href="#g15" x="262" y="284"/>
<use href="#g24" x="270" y="284"/>
<use href="#g24" x="278" y="284"/>
<use href="#g18" x="284" y="284"/>
<use href="#g12" x="293" y="284"/>
<use href="#g11" x="299" y="284"/>
<use href="#g21" x="308" y="284"/>
<use href="#g9" x="315" y="284"/>
<use href="#g7" x="323" y="284"/>
<use href="#g20" x="330" y="284"/>
<use href="#g15" x="339" y="284"/>
<use href="#g16" x="347" y="284"/>
<use href="#g9" x="359" y="284"/>
<use href="#g21" x="372" y="284"/>
<use href="#g8" x="380" y="284"/>
<use href="#g18" x="387" y="284"/>
<use href="#g7" x="396" y="284"/>
<use href="#g24" x="403" y="284"/>
<use href="#g25" x="409" y="284"/>
<use href="#g15" x="417" y="284"/>
<use href="#g15" x="429" y="284"/>
<use href="#g14" x="438" y="284"/>
<use href="#g26" x="444" y="284"/>
<use href="#g30" x="452" y="284"/>
<use href="#g12" x="461" y="284"/>
<use href="#g20" x="467" y="284"/>
<use href="#g15" x="476" y="284"/>
<use href="#g38" x="484" y="284"/>
<use href="#g8" x="496" y="284"/>
<use href="#g15" x="504" y="284"/>
<use href="#g21" x="513" y="284"/>
<use href="#g18" x="520" y="284"/>
<use href="#g21" x="529" y="284"/>
<use href="#g10" x="536" y="284"/>
<use href="#g15" x="543" y="284"/>
<use href="#g30" x="551" y="284"/>
<use href="#g12" x="560" y="284"/>
<use href="#g24" x="567" y="284"/>
<use href="#g17" x="574" y="284"/>
<use href="#g15" x="582" y="284"/>
<use href="#g28" x="590" y="284"/>
<use href="#g21" x="132" y="301"/>
<use href="#g24" x="140" y="301"/>
<use href="#g21" x="147" y="301"/>
<use href="#g8" x="155" y="301"/>
<use href="#g12" x="163" y="301"/>
<use href="#g20" x="170" y="301"/>
<use href="#g20" x="179" y="301"/>
<use href="#g21" x="187" y="301"/>
<use href="#g24" x="195" y="301"/>
<use href="#g25" x="201" y="301"/>
<use href="#g12" x="209" y="301"/>
<use href="#g16" x="216" y="301"/>
<use href="#g0" x="225" y="301"/>
<use href="#g21" x="233" y="301"/>
<use href="#g28" x="241" y="301"/>
<use href="#g23" x="249" y="301"/>
<use href="#g7" x="257" y="301"/>
<use href="#g20" x="264" y="301"/>
<use href="#g34" x="273" y="301"/>
<use href="#g15" x="288" y="301"/>
<use href="#g9" x="300" y="301"/>
<use href="#g21" x="308" y="301"/>
<use href="#g24" x="316" y="301"/>
<use href="#g22" x="323" y="301"/>
<use href="#g23" x="331" y="301"/>
<use href="#g21" x="339" y="301"/>
<use href="#g15" x="347" y="301"/>
<use href="#g14" x="355" y="301"/>
<use href="#g9" x="361" y="301"/>
<use href="#g21" x="369" y="301"/>
<use href="#g11" x="377" y="301"/>
<use href="#g24" x="386" y="301"/>
<use href="#g25" x="391" y="301"/>
<use href="#g9" x="398" y="301"/>
<use href="#g7" x="406" y="301"/>
<use href="#g23" x="417" y="301"/>
<use href="#g12" x="426" y="301"/>
<use href="#g11" x="432" y="301"/>
<use href="#g17" x="441" y="301"/>
<use href="#g15" x="449" y="301"/>
<use href="#g28" x="457" y="301"/>
<use href="#g15" x="470" y="301"/>
<use href="#g20" x="482" y="301"/>
<use href="#g7" x="490" y="301"/>
<use href="#g28" x="497" y="301"/>
<use href="#g21" x="505" y="301"/>
<use href="#g11" x="513" y="301"/>
<use href="#g38" x="520" y="301"/>
<use href="#g32" x="528" y="301"/>
<use href="#g15" x="540" y="301"/>
<use href="#g28" x="549" y="301"/>
<use href="#g24" x="557" y="301"/>
<use href="#g38" x="563" y="301"/>
<use href="#g22" x="577" y="301"/>
<use href="#g21" x="586" y="301"/>
<use href="#g11" x="593" y="301"/>
<use href="#g26" x="232" y="317"/>
<use href="#g10" x="239" y="317"/>
<use href="#g23" x="246" y="317"/>
<use href="#g21" x="254" y="317"/>
<use href="#g14" x="262" y="317"/>
<use href="#g21" x="268" y="317"/>
<use href="#g16" x="275" y="317"/>
<use href="#g15" x="290" y="317"/>
<use href="#g24" x="299" y="317"/>
<use href="#g30" x="305" y="317"/>
<use href="#g12" x="314" y="317"/>
<use href="#g14" x="321" y="317"/>
<use href="#g20" x="327" y="317"/>
<use href="#g21" x="336" y="317"/>
<use href="#g9" x="344" y="317"/>
<use href="#g12" x="352" y="317"/>
<use href="#g20" x="359" y="317"/>
<use href="#g15" x="368" y="317"/>
<use href="#g38" x="375" y="317"/>
<use href="#g9" x="387" y="317"/>
<use href="#g15" x="395" y="317"/>
<use href="#g11" x="403" y="317"/>
<use href="#g21" x="412" y="317"/>
<use href="#g9" x="419" y="317"/>
<use href="#g13" x="431" y="317"/>
<use href="#g15" x="442" y="317"/>
<use href="#g9" x="450" y="317"/>
<use href="#g21" x="459" y="317"/>
<use href="#g25" x="466" y="317"/>
<use href="#g20" x="474" y="317"/>
<use href="#g34" x="482" y="317"/>
<use href="#g28" x="493" y="317"/>
<use href="#g4" x="133" y="371"/>
<use href="#g12" x="143" y="371"/>
<use href="#g7" x="149" y="371"/>
<use href="#g18" x="156" y="371"/>
<use href="#g15" x="164" y="371"/>
<use href="#g14" x="173" y="371"/>
<use href="#g7" x="179" y="371"/>
<use href="#g29" x="186" y="371"/>
<use href="#g15" x="195" y="371"/>
<use href="#g38" x="203" y="371"/>
<use href="#g24" x="215" y="371"/>
<use href="#g22" x="222" y="371"/>
<use href="#g12" x="231" y="371"/>
<use href="#g29" x="237" y="371"/>
<use href="#g15" x="246" y="371"/>
<use href="#g7" x="254" y="371"/>
<use href="#g18" x="261" y="371"/>
<use href="#g35" x="269" y="371"/>
<use href="#g20" x="277" y="371"/>
<use href="#g34" x="286" y="371"/>
<use href="#g28" x="296" y="371"/>
<use href="#g19" x="308" y="371"/>
<use href="#g12" x="318" y="371"/>
<use href="#g23" x="325" y="371"/>
<use href="#g22" x="339" y="371"/>
<use href="#g21" x="347" y="371"/>
<use href="#g21" x="359" y="371"/>
<use href="#g28" x="367" y="371"/>
<use href="#g23" x="374" y="371"/>
<use href="#g7" x="383" y="371"/>
<use href="#g20" x="390" y="371"/>
<use href="#g12" x="399" y="371"/>
<use href="#g15" x="410" y="371"/>
<use href="#g9" x="422" y="371"/>
<use href="#g21" x="430" y="371"/>
<use href="#g24" x="438" y="371"/>
<use href="#g24" x="446" y="371"/>
<use href="#g25" x="452" y="371"/>
<use href="#g7" x="459" y="371"/>
<use href="#g20" x="466" y="371"/>
<use href="#g21" x="475" y="371"/>
<use href="#g9" x="482" y="371"/>
<use href="#g18" x="490" y="371"/>
<use href="#g12" x="499" y="371"/>
<use href="#g20" x="505" y="371"/>
<use href="#g15" x="514" y="371"/>
<use href="#g37" x="522" y="371"/>
<use href="#g23" x="538" y="371"/>
<use href="#g12" x="547" y="371"/>
<use href="#g11" x="553" y="371"/>
<use href="#g17" x="561" y="371"/>
<use href="#g15" x="569" y="371"/>
<use href="#g28" x="578" y="371"/>
<use href="#g15" x="590" y="371"/>
<use href="#g20" x="155" y="388"/>
<use href="#g7" x="163" y="388"/>
<use href="#g28" x="170" y="388"/>
<use href="#g21" x="178" y="388"/>
<use href="#g11" x="185" y="388"/>
<use href="#g38" x="193" y="388"/>
<use href="#g32" x="201" y="388"/>
<use href="#g15" x="213" y="388"/>
<use href="#g28" x="221" y="388"/>
<use href="#g24" x="229" y="388"/>
<use href="#g38" x="235" y="388"/>
<use href="#g22" x="249" y="388"/>
<use href="#g21" x="258" y="388"/>
<use href="#g11" x="265" y="388"/>
<use href="#g26" x="277" y="388"/>
<use href="#g10" x="285" y="388"/>
<use href="#g23" x="291" y="388"/>
<use href="#g21" x="300" y="388"/>
<use href="#g14" x="308" y="388"/>
<use href="#g21" x="315" y="388"/>
<use href="#g16" x="322" y="388"/>
<use href="#g15" x="335" y="388"/>
<use href="#g24" x="344" y="388"/>
<use href="#g30" x="351" y="388"/>
<use href="#g12" x="360" y="388"/>
<use href="#g14" x="367" y="388"/>
<use href="#g20" x="373" y="388"/>
<use href="#g21" x="382" y="388"/>
<use href="#g9" x="390" y="388"/>
<use href="#g12" x="398" y="388"/>
<use href="#g20" x="405" y="388"/>
<use href="#g15" x="414" y="388"/>
<use href="#g38" x="422" y="388"/>
<use href="#g9" x="434" y="388"/>
<use href="#g15" x="442" y="388"/>
<use href="#g11" x="449" y="388"/>
<use href="#g21" x="458" y="388"/>
<use href="#g9" x="464" y="388"/>
<use href="#g13" x="476" y="388"/>
<use href="#g15" x="487" y="388"/>
<use href="#g9" x="495" y="388"/>
<use href="#g21" x="503" y="388"/>
<use href="#g25" x="510" y="388"/>
<use href="#g20" x="518" y="388"/>
<use href="#g34" x="526" y="388"/>
<use href="#g28" x="537" y="388"/>
<use href="#g15" x="549" y="388"/>
<use href="#g15" x="562" y="388"/>
<use href="#g28" x="571" y="388"/>
<use href="#g19" x="315" y="404"/>
<use href="#g12" x="326" y="404"/>
<use href="#g24" x="333" y="404"/>
<use href="#g25" x="339" y="404"/>
<use href="#g21" x="347" y="404"/>
<use href="#g21" x="355" y="404"/>
<use href="#g8" x="364" y="404"/>
<use href="#g15" x="371" y="404"/>
<use href="#g25" x="379" y="404"/>
<use href="#g7" x="387" y="404"/>
<use href="#g20" x="395" y="404"/>
<use href="#g15" x="403" y="404"/>
<use href="#g16" x="412" y="404"/>
<use href="#g4" x="126" y="458"/>
<use href="#g7" x="135" y="458"/>
<use href="#g14" x="142" y="458"/>
<use href="#g9" x="148" y="458"/>
<use href="#g15" x="156" y="458"/>
<use href="#g25" x="164" y="458"/>
<use href="#g15" x="172" y="458"/>
<use href="#g12" x="181" y="458"/>
<use href="#g36" x="191" y="458"/>
<use href="#g17" x="198" y="458"/>
<use href="#g21" x="206" y="458"/>
<use href="#g18" x="214" y="458"/>
<use href="#g21" x="222" y="458"/>
<use href="#g10" x="229" y="458"/>
<use href="#g21" x="237" y="458"/>
<use href="#g1" x="244" y="458"/>
<use href="#g22" x="250" y="458"/>
<use href="#g23" x="258" y="458"/>
<use href="#g21" x="267" y="458"/>
<use href="#g24" x="275" y="458"/>
<use href="#g9" x="281" y="458"/>
<use href="#g12" x="289" y="458"/>
<use href="#g25" x="295" y="458"/>
<use href="#g15" x="303" y="458"/>
<use href="#g25" x="311" y="458"/>
<use href="#g12" x="319" y="458"/>
<use href="#g18" x="325" y="458"/>
<use href="#g35" x="333" y="458"/>
<use href="#g24" x="341" y="458"/>
<use href="#g17" x="348" y="458"/>
<use href="#g21" x="356" y="458"/>
<use href="#g16" x="364" y="458"/>
<use href="#g11" x="376" y="458"/>
<use href="#g12" x="385" y="458"/>
<use href="#g38" x="391" y="458"/>
<use href="#g25" x="398" y="458"/>
<use href="#g12" x="407" y="458"/>
<use href="#g18" x="413" y="458"/>
<use href="#g35" x="421" y="458"/>
<use href="#g20" x="429" y="458"/>
<use href="#g21" x="438" y="458"/>
<use href="#g24" x="446" y="458"/>
<use href="#g25" x="452" y="458"/>
<use href="#g15" x="460" y="458"/>
<use href="#g9" x="472" y="458"/>
<use href="#g24" x="484" y="458"/>
<use href="#g27" x="491" y="458"/>
<use href="#g12" x="501" y="458"/>
<use href="#g23" x="507" y="458"/>
<use href="#g12" x="515" y="458"/>
<use href="#g24" x="528" y="458"/>
<use href="#g21" x="535" y="458"/>
<use href="#g28" x="543" y="458"/>
<use href="#g23" x="551" y="458"/>
<use href="#g7" x="559" y="458"/>
<use href="#g20" x="566" y="458"/>
<use href="#g12" x="575" y="458"/>
<use href="#g20" x="582" y="458"/>
<use href="#g15" x="591" y="458"/>
<use href="#g38" x="599" y="458"/>
<use href="#g15" x="132" y="475"/>
<use href="#g9" x="144" y="475"/>
<use href="#g21" x="152" y="475"/>
<use href="#g24" x="160" y="475"/>
<use href="#g22" x="167" y="475"/>
<use href="#g23" x="175" y="475"/>
<use href="#g21" x="184" y="475"/>
<use href="#g15" x="192" y="475"/>
<use href="#g14" x="200" y="475"/>
<use href="#g9" x="206" y="475"/>
<use href="#g21" x="214" y="475"/>
<use href="#g11" x="221" y="475"/>
<use href="#g24" x="230" y="475"/>
<use href="#g25" x="236" y="475"/>
<use href="#g9" x="243" y="475"/>
<use href="#g7" x="251" y="475"/>
<use href="#g23" x="262" y="475"/>
<use href="#g12" x="271" y="475"/>
<use href="#g11" x="277" y="475"/>
<use href="#g17" x="285" y="475"/>
<use href="#g15" x="293" y="475"/>
<use href="#g28" x="301" y="475"/>
<use href="#g15" x="316" y="475"/>
<use href="#g20" x="328" y="475"/>
<use href="#g7" x="336" y="475"/>
<use href="#g28" x="343" y="475"/>
<use href="#g21" x="351" y="475"/>
<use href="#g11" x="358" y="475"/>
<use href="#g38" x="366" y="475"/>
<use href="#g32" x="374" y="475"/>
<use href="#g15" x="386" y="475"/>
<use href="#g28" x="394" y="475"/>
<use href="#g24" x="402" y="475"/>
<use href="#g38" x="408" y="475"/>
<use href="#g22" x="422" y="475"/>
<use href="#g21" x="431" y="475"/>
<use href="#g11" x="438" y="475"/>
<use href="#g26" x="450" y="475"/>
<use href="#g10" x="458" y="475"/>
<use href="#g23" x="465" y="475"/>
<use href="#g21" x="474" y="475"/>
<use href="#g14" x="481" y="475"/>
<use href="#g21" x="488" y="475"/>
<use href="#g16" x="496" y="475"/>
<use href="#g15" x="509" y="475"/>
<use href="#g24" x="518" y="475"/>
<use href="#g30" x="525" y="475"/>
<use href="#g12" x="533" y="475"/>
<use href="#g14" x="540" y="475"/>
<use href="#g20" x="547" y="475"/>
<use href="#g21" x="556" y="475"/>
<use href="#g9" x="563" y="475"/>
<use href="#g12" x="571" y="475"/>
<use href="#g20" x="578" y="475"/>
<use href="#g15" x="587" y="475"/>
<use href="#g38" x="595" y="475"/>
<use href="#g9" x="310" y="491"/>
<use href="#g15" x="318" y="491"/>
<use href="#g11" x="326" y="491"/>
<use href="#g21" x="335" y="491"/>
<use href="#g9" x="342" y="491"/>
<use href="#g13" x="355" y="491"/>
<use href="#g15" x="366" y="491"/>
<use href="#g9" x="374" y="491"/>
<use href="#g21" x="382" y="491"/>
<use href="#g25" x="389" y="491"/>
<use href="#g20" x="397" y="491"/>
<use href="#g34" x="406" y="491"/>
<use href="#g28" x="416" y="491"/>
<use href="#g4" x="129" y="561"/>
<use href="#g7" x="138" y="561"/>
<use href="#g14" x="145" y="561"/>
<use href="#g9" x="151" y="561"/>
<use href="#g15" x="160" y="561"/>
<use href="#g25" x="167" y="561"/>
<use href="#g15" x="175" y="561"/>
<use href="#g12" x="184" y="561"/>
<use href="#g19" x="195" y="561"/>
<use href="#g12" x="205" y="561"/>
<use href="#g13" x="212" y="561"/>
<use href="#g11" x="223" y="561"/>
<use href="#g26" x="231" y="561"/>
<use href="#g20" x="239" y="561"/>
<use href="#g7" x="247" y="561"/>
<use href="#g23" x="254" y="561"/>
<use href="#g21" x="262" y="561"/>
<use href="#g11" x="269" y="561"/>
<use href="#g20" x="278" y="561"/>
<use href="#g21" x="286" y="561"/>
<use href="#g10" x="293" y="561"/>
<use href="#g21" x="301" y="561"/>
<use href="#g24" x="315" y="561"/>
<use href="#g21" x="322" y="561"/>
<use href="#g25" x="329" y="561"/>
<use href="#g23" x="336" y="561"/>
<use href="#g26" x="344" y="561"/>
<use href="#g11" x="352" y="561"/>
<use href="#g20" x="361" y="561"/>
<use href="#g15" x="369" y="561"/>
<use href="#g30" x="378" y="561"/>
<use href="#g12" x="386" y="561"/>
<use href="#g24" x="393" y="561"/>
<use href="#g25" x="399" y="561"/>
<use href="#g9" x="406" y="561"/>
<use href="#g7" x="415" y="561"/>
<use href="#g9" x="425" y="561"/>
<use href="#g22" x="437" y="561"/>
<use href="#g23" x="445" y="561"/>
<use href="#g15" x="454" y="561"/>
<use href="#g23" x="462" y="561"/>
<use href="#g21" x="470" y="561"/>
<use href="#g11" x="478" y="561"/>
<use href="#g21" x="486" y="561"/>
<use href="#g21" x="494" y="561"/>
<use href="#g28" x="502" y="561"/>
<use href="#g23" x="510" y="561"/>
<use href="#g7" x="518" y="561"/>
<use href="#g20" x="525" y="561"/>
<use href="#g20" x="534" y="561"/>
<use href="#g21" x="542" y="561"/>
<use href="#g16" x="550" y="561"/>
<use href="#g24" x="563" y="561"/>
<use href="#g27" x="571" y="561"/>
<use href="#g12" x="580" y="561"/>
<use href="#g23" x="586" y="561"/>
<use href="#g12" x="595" y="561"/>
<use href="#g3" x="14" y="152"/>
<use href="#g24" x="26" y="152"/>
<use href="#g20" x="33" y="152"/>
<use href="#g21" x="42" y="152"/>
<use href="#g9" x="49" y="152"/>
<use href="#g20" x="57" y="152"/>
<use href="#g34" x="66" y="152"/>
<use href="#g12" x="42" y="168"/>
<use href="#g20" x="14" y="185"/>
<use href="#g7" x="23" y="185"/>
<use href="#g22" x="30" y="185"/>
<use href="#g23" x="38" y="185"/>
<use href="#g7" x="47" y="185"/>
<use href="#g9" x="53" y="185"/>
<use href="#g18" x="61" y="185"/>
<use href="#g12" x="70" y="185"/>
<use href="#g20" x="33" y="202"/>
<use href="#g15" x="42" y="202"/>
<use href="#g38" x="51" y="202"/>
<use href="#g10" x="11" y="218"/>
<use href="#g21" x="18" y="218"/>
<use href="#g24" x="26" y="218"/>
<use href="#g26" x="32" y="218"/>
<use href="#g11" x="40" y="218"/>
<use href="#g7" x="48" y="218"/>
<use href="#g23" x="55" y="218"/>
<use href="#g24" x="63" y="218"/>
<use href="#g25" x="69" y="218"/>
<use href="#g9" x="20" y="235"/>
<use href="#g12" x="29" y="235"/>
<use href="#g20" x="35" y="235"/>
<use href="#g20" x="44" y="235"/>
<use href="#g21" x="53" y="235"/>
<use href="#g16" x="61" y="235"/>
<use href="#g22" x="13" y="251"/>
<use href="#g21" x="22" y="251"/>
<use href="#g18" x="29" y="251"/>
<use href="#g15" x="38" y="251"/>
<use href="#g25" x="46" y="251"/>
<use href="#g15" x="53" y="251"/>
<use href="#g17" x="62" y="251"/>
<use href="#g15" x="70" y="251"/>
<use href="#g9" x="19" y="268"/>
<use href="#g24" x="31" y="268"/>
<use href="#g27" x="39" y="268"/>
<use href="#g12" x="48" y="268"/>
<use href="#g23" x="55" y="268"/>
<use href="#g12" x="63" y="268"/>
<use href="#g24" x="14" y="284"/>
<use href="#g21" x="21" y="284"/>
<use href="#g28" x="28" y="284"/>
<use href="#g23" x="36" y="284"/>
<use href="#g7" x="44" y="284"/>
<use href="#g20" x="52" y="284"/>
<use href="#g12" x="60" y="284"/>
<use href="#g20" x="67" y="284"/>
<use href="#g15" x="12" y="301"/>
<use href="#g38" x="20" y="301"/>
<use href="#g23" x="31" y="301"/>
<use href="#g12" x="40" y="301"/>
<use href="#g11" x="46" y="301"/>
<use href="#g17" x="54" y="301"/>
<use href="#g15" x="62" y="301"/>
<use href="#g28" x="70" y="301"/>
<use href="#g15" x="41" y="318"/>
<use href="#g20" x="16" y="334"/>
<use href="#g7" x="24" y="334"/>
<use href="#g28" x="31" y="334"/>
<use href="#g21" x="39" y="334"/>
<use href="#g11" x="46" y="334"/>
<use href="#g38" x="54" y="334"/>
<use href="#g32" x="61" y="334"/>
<use href="#g15" x="16" y="351"/>
<use href="#g28" x="24" y="351"/>
<use href="#g24" x="33" y="351"/>
<use href="#g38" x="39" y="351"/>
<use href="#g22" x="51" y="351"/>
<use href="#g21" x="60" y="351"/>
<use href="#g11" x="67" y="351"/>
<use href="#g26" x="18" y="367"/>
<use href="#g10" x="25" y="367"/>
<use href="#g23" x="32" y="367"/>
<use href="#g21" x="41" y="367"/>
<use href="#g14" x="48" y="367"/>
<use href="#g21" x="55" y="367"/>
<use href="#g16" x="62" y="367"/>
<use href="#g15" x="15" y="384"/>
<use href="#g24" x="24" y="384"/>
<use href="#g30" x="30" y="384"/>
<use href="#g12" x="39" y="384"/>
<use href="#g14" x="46" y="384"/>
<use href="#g20" x="52" y="384"/>
<use href="#g21" x="61" y="384"/>
<use href="#g9" x="68" y="384"/>
<use href="#g12" x="30" y="400"/>
<use href="#g20" x="37" y="400"/>
<use href="#g15" x="46" y="400"/>
<use href="#g38" x="54" y="400"/>
<use href="#g9" x="24" y="417"/>
<use href="#g15" x="32" y="417"/>
<use href="#g11" x="41" y="417"/>
<use href="#g21" x="50" y="417"/>
<use href="#g9" x="57" y="417"/>
<use href="#g13" x="15" y="433"/>
<use href="#g15" x="26" y="433"/>
<use href="#g9" x="34" y="433"/>
<use href="#g21" x="42" y="433"/>
<use href="#g25" x="49" y="433"/>
<use href="#g20" x="57" y="433"/>
<use href="#g34" x="66" y="433"/>
<use href="#g28" x="40" y="450"/>
</g>
</svg>
</body></html>
